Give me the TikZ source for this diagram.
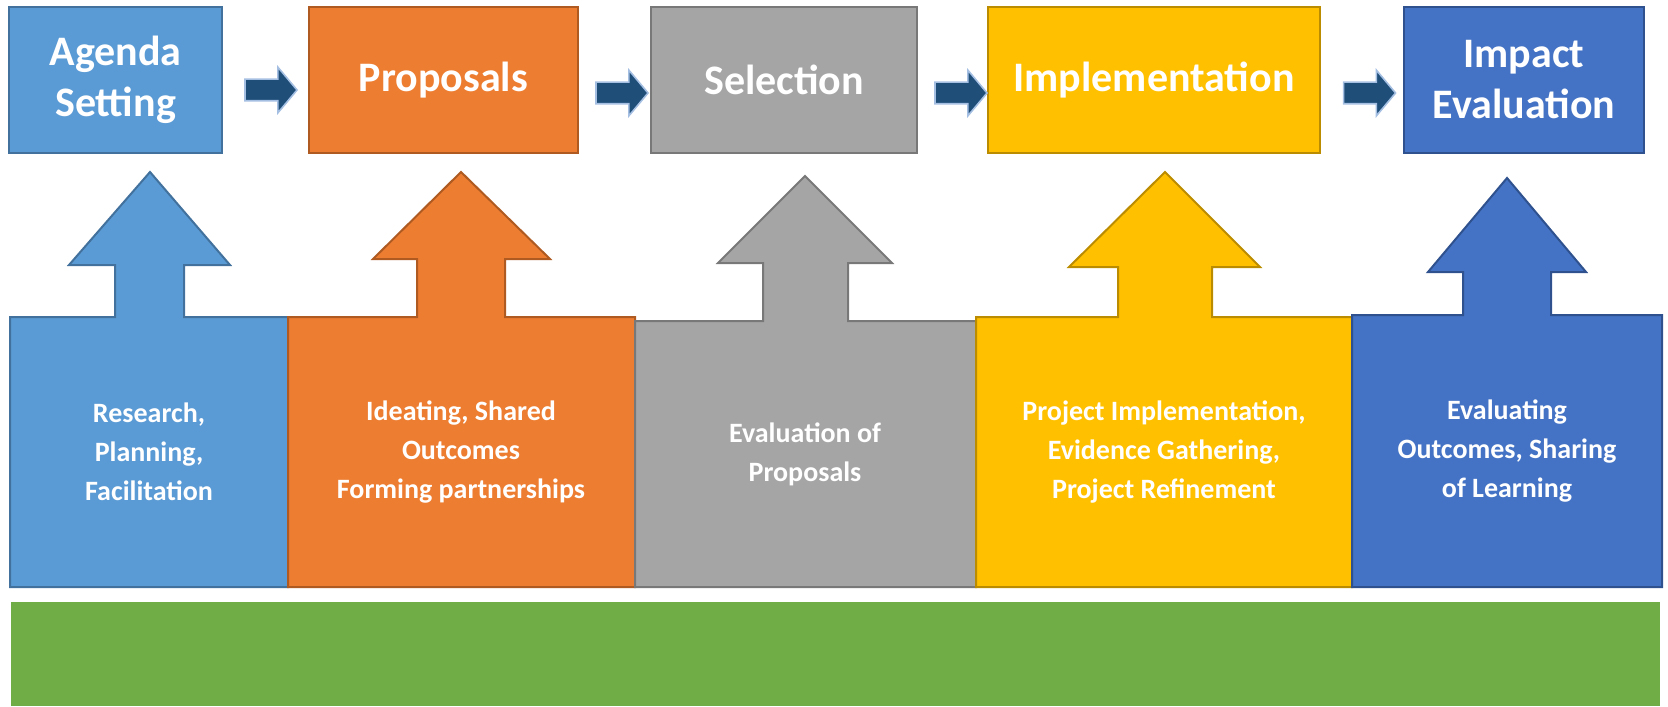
\documentclass[tikz,border=0pt]{standalone}
\usepackage{fontspec}
\setmainfont{Carlito}
\usetikzlibrary{positioning,shapes.arrows,calc}

\definecolor{stageblue}{HTML}{5B9BD5}
\definecolor{stageblueline}{HTML}{41719C}
\definecolor{stageorange}{HTML}{ED7D31}
\definecolor{stageorangeline}{HTML}{AE5A21}
\definecolor{stagegray}{HTML}{A5A5A5}
\definecolor{stagegrayline}{HTML}{787878}
\definecolor{stageyellow}{HTML}{FFC000}
\definecolor{stageyellowline}{HTML}{BC8C00}
\definecolor{stagenavy}{HTML}{4472C4}
\definecolor{stagenavyline}{HTML}{2F528F}
\definecolor{flowfill}{HTML}{1F4E79}
\definecolor{flowline}{HTML}{A4BFE2}
\definecolor{basegreen}{HTML}{70AD47}

\tikzset{
  topbox/.style 2 args={rectangle, fill=#1, draw=#2, line width=1pt,
    minimum height=73pt, inner sep=0pt, outer sep=0pt, text=white, align=center,
    font=\bfseries\fontsize{21}{25.5}\selectfont},
  flowarrow/.style={single arrow, fill=flowfill, draw=flowline, line width=0.8pt,
    minimum height=26pt, inner xsep=0pt, inner ysep=5pt, text height=0pt, text depth=0pt,
    single arrow head extend=6pt, single arrow tip angle=100},
  liftshape/.style 2 args={fill=#1, draw=#2, line width=1pt, line join=miter},
  infotext/.style={text=white, align=center,
    font=\bfseries\fontsize{14}{19.5}\selectfont}
}

\begin{document}
\begin{tikzpicture}[x=0.5pt, y=-0.5pt]
\useasboundingbox (0,0) rectangle (1668,706);

% stages along the top
\node [topbox={stageblue}{stageblueline}, minimum width=106.5pt, anchor=north west] (agenda) at (9,7) {Agenda\\Setting};
\node [topbox={stageorange}{stageorangeline}, minimum width=134.5pt, right=43.5pt of agenda] (prop) {Proposals};
\node [topbox={stagegray}{stagegrayline}, minimum width=133pt, right=36.5pt of prop] (sel) {Selection};
\node [topbox={stageyellow}{stageyellowline}, minimum width=166pt, right=35.5pt of sel] (impl) {Implementation};
\node [topbox={stagenavy}{stagenavyline}, minimum width=120pt, right=42pt of impl] (impact) {Impact\\Evaluation};

% block arrows between stages
\node [flowarrow] (ar1) at ($(agenda.east)!0.5!(prop.west)+(1,10)$) {};
\node [flowarrow] (ar2) at ($(prop.east)!0.5!(sel.west)+(3,13)$) {};
\node [flowarrow] (ar3) at ($(sel.east)!0.5!(impl.west)+(4,13)$) {};
\node [flowarrow] (ar4) at ($(impl.east)!0.5!(impact.west)+(3,13)$) {};

% activity blocks with up arrows
\filldraw [liftshape={stageblue}{stageblueline}]
  (10,587) -- (288,587) -- (288,317) -- (184,317) -- (184,265) -- (230,265)
  -- (150,172) -- (69,265) -- (115,265) -- (115,317) -- (10,317) -- cycle;
\filldraw [liftshape={stageorange}{stageorangeline}]
  (288,587) -- (635,587) -- (635,317) -- (505,317) -- (505,259) -- (550,259)
  -- (461,172) -- (373,259) -- (417,259) -- (417,317) -- (288,317) -- cycle;
\filldraw [liftshape={stagegray}{stagegrayline}]
  (635,587) -- (976,587) -- (976,321) -- (848,321) -- (848,263) -- (892,263)
  -- (805,176) -- (718,263) -- (763,263) -- (763,321) -- (635,321) -- cycle;
\filldraw [liftshape={stageyellow}{stageyellowline}]
  (976,587) -- (1352,587) -- (1352,317) -- (1212,317) -- (1212,267) -- (1260,267)
  -- (1165,172) -- (1069,267) -- (1118,267) -- (1118,317) -- (976,317) -- cycle;
\filldraw [liftshape={stagenavy}{stagenavyline}]
  (1352,587) -- (1662,587) -- (1662,315) -- (1551,315) -- (1551,272) -- (1586,272)
  -- (1507,178) -- (1428,272) -- (1463,272) -- (1463,315) -- (1352,315) -- cycle;

\node [infotext] (research) at (149,452) {Research,\\Planning,\\Facilitation};
\node [infotext] (ideas) at (461,452) {Ideating, Shared\\Outcomes\\Forming partnerships};
\node [infotext] (evalprop) at (805,454) {Evaluation of\\Proposals};
\node [infotext] (project) at (1164,452) {Project Implementation,\\Evidence Gathering,\\Project Refinement};
\node [infotext] (learning) at (1507,451) {Evaluating\\Outcomes, Sharing\\of Learning};

% base strip
\fill [basegreen] (11,602) rectangle (1660,706);

\end{tikzpicture}
\end{document}
